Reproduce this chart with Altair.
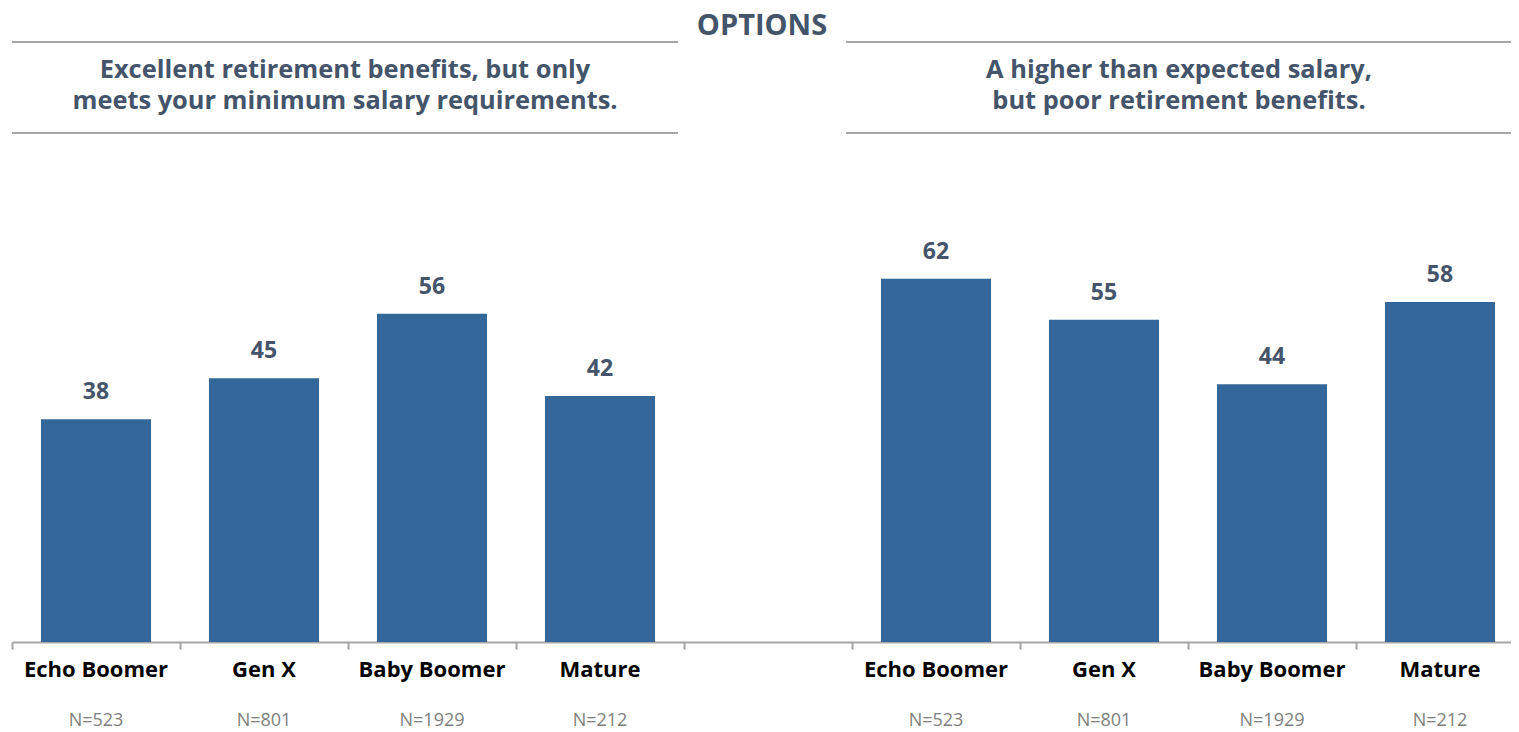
import altair as alt
import pandas as pd

# ---- data ----
categories = ["Echo Boomer", "Gen X", "Baby Boomer", "Mature"]
left_values = [38, 45, 56, 42]
right_values = [62, 55, 44, 58]
sample_sizes = ["N=523", "N=801", "N=1929", "N=212"]
panels = ["left", "right"]
header_text = "OPTIONS"
left_title = ["Excellent retirement benefits, but only", "meets your minimum salary requirements."]
right_title = ["A higher than expected salary,", "but poor retirement benefits."]

BAR = "#336699"
DARK = "#44546A"
GRID = "#a6a6a6"
FONT = "Open Sans"

rows = []
for panel, vals in zip(panels, [left_values, right_values]):
    for c, v, n in zip(categories, vals, sample_sizes):
        rows.append({"slot": f"{panel}|{c}", "category": c, "value": v, "n": n})
df = pd.DataFrame(rows)
domain = [f"left|{c}" for c in categories] + ["gap"] + [f"right|{c}" for c in categories]

x = alt.X(
    "slot:N",
    sort=domain,
    scale=alt.Scale(domain=domain, range=[0, 1512], paddingInner=0, paddingOuter=0),
    axis=alt.Axis(labels=False, title=None, tickBand="extent", domainColor=GRID,
                  domainWidth=2, tickColor=GRID, tickWidth=2, tickSize=7),
)
y = alt.Y("value:Q", scale=alt.Scale(domain=[0, 100]), axis=None)

base = alt.Chart(df)
bars = base.mark_bar(color=BAR, width=alt.RelativeBandSize(0.655)).encode(x=x, y=y)
values = base.mark_text(font=FONT, fontSize=23, fontWeight="bold", color=DARK,
                        baseline="alphabetic", dy=-20).encode(x=x, y=y, text="value:Q")
cats = base.mark_text(font=FONT, fontSize=22, fontWeight="bold", color="#000000",
                      baseline="alphabetic").encode(x=x, y=alt.value(621), text="category:N")
ns = base.mark_text(font=FONT, fontSize=18, color="#7f7f7f",
                    baseline="alphabetic").encode(x=x, y=alt.value(670), text="n:N")

one = pd.DataFrame({"k": [0]})
hdr = alt.Chart(pd.DataFrame({"t": [header_text]})).mark_text(
    font=FONT, fontSize=29, fontWeight="bold", color=DARK, baseline="alphabetic"
).encode(x=alt.value(750), y=alt.value(-21), text="t:N")

def rule(x1, x2, yy):
    return alt.Chart(one).mark_rule(color=GRID, strokeWidth=2).encode(
        x=alt.value(x1), x2=alt.value(x2), y=alt.value(yy))

lines = [rule(0, 666, -14), rule(834, 1500, -14), rule(0, 666, 77), rule(834, 1500, 77)]

def subtitle(lines_, cx):
    return alt.Chart(one).mark_text(
        text=lines_, font=FONT, fontSize=25.4, fontWeight="bold", color=DARK,
        baseline="alphabetic", lineHeight=31, align="center"
    ).encode(x=alt.value(cx), y=alt.value(22))

chart = alt.layer(
    bars, values, cats, ns, hdr, *lines,
    subtitle(left_title, 333), subtitle(right_title, 1167)
).properties(
    width=1499, height=586,
    autosize=alt.AutoSizeParams(type="none"),
    padding={"left": 4, "top": 48, "right": 0, "bottom": 88},
).configure_view(stroke=None)

chart.save("out.html", embed_options={"renderer": "svg", "actions": False})
